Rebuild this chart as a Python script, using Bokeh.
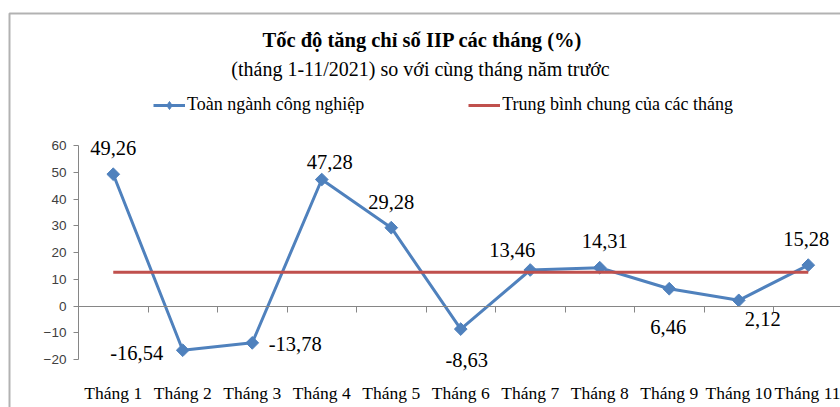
import math
from bokeh.plotting import figure
from bokeh.models import (Range1d, FixedTicker, ColumnDataSource, LabelSet, Label,
                          BoxAnnotation, LinearAxis)
from bokeh.embed import file_html
from bokeh.resources import INLINE
from bokeh.core.properties import value

# ---------------- data ----------------
months = ["Tháng 1", "Tháng 2", "Tháng 3", "Tháng 4", "Tháng 5", "Tháng 6",
          "Tháng 7", "Tháng 8", "Tháng 9", "Tháng 10", "Tháng 11"]
growth = [49.26, -16.54, -13.78, 47.28, 29.28, -8.63, 13.46, 14.31, 6.46, 2.12, 15.28]
average = 12.59
y_ticks = [-20, -10, 0, 10, 20, 30, 40, 50, 60]
y_min, y_max = -20, 60

title_text = "Tốc độ tăng chỉ số IIP các tháng (%)"
subtitle_text = "(tháng 1-11/2021) so với cùng tháng năm trước"
series_name = "Toàn ngành công nghiệp"
avg_name = "Trung bình chung của các tháng"

# label placement (pixels, relative to each point)
label_dx = [0, -46, 43, 8, 0, 6, -18, 5, -1, 24, -2]
label_dy = [26, -3, -1, 18, 26, -31, 20, 27, -38, -19, 26]

BLUE = "#4F81BD"
RED = "#C0504D"
GRAY = "#868686"
SERIF = "Liberation Serif"

W, H = 840, 407
xs = [i + 0.5 for i in range(len(months))]
bounds = list(range(1, len(months) + 1))

# plot area geometry (pixels) used to build the ranges
px_left, px_per_cat = 78, 69.5
py_top, py_bottom = 145, 359
px_per_unit = (py_bottom - py_top) / (y_max - y_min)
x0 = -px_left / px_per_cat
x1 = (W - px_left) / px_per_cat
y_top = y_max + py_top / px_per_unit
y_bot = y_min - (H - py_bottom) / px_per_unit

p = figure(width=W, height=H, output_backend="svg", toolbar_location=None,
           x_range=Range1d(x0, x1), y_range=Range1d(y_bot, y_top),
           min_border_left=0, min_border_right=0, min_border_top=0,
           min_border_bottom=0, x_axis_location=None, y_axis_location=None)
p.title.visible = False
p.outline_line_color = None
p.xgrid.visible = False
p.ygrid.visible = False
p.background_fill_color = "white"
p.border_fill_color = "white"

# y axis at the left of the plot area
yax = LinearAxis(fixed_location=0, bounds=(y_min, y_max))
yax.ticker = FixedTicker(ticks=y_ticks)
yax.minor_tick_line_color = None
yax.major_tick_in = 0
yax.major_tick_out = 5
yax.axis_line_color = GRAY
yax.major_tick_line_color = GRAY
yax.major_label_text_font = "Liberation Sans"
yax.major_label_text_font_size = "13.5px"
yax.major_label_text_color = "#404040"
yax.major_label_standoff = 7
p.add_layout(yax, "left")

# category axis line at zero, with tick marks between categories
zax = LinearAxis(fixed_location=0, bounds=(0, x1))
zax.ticker = FixedTicker(ticks=bounds)
zax.minor_tick_line_color = None
zax.major_tick_in = 0
zax.major_tick_out = 6
zax.axis_line_color = GRAY
zax.major_tick_line_color = GRAY
zax.major_label_text_color = None
p.add_layout(zax, "below")

# category labels below the plot area
xax = LinearAxis(fixed_location=y_min)
xax.ticker = FixedTicker(ticks=xs)
xax.major_label_overrides = {x: m for x, m in zip(xs, months)}
xax.axis_line_color = None
xax.major_tick_line_color = None
xax.minor_tick_line_color = None
xax.major_label_text_font = SERIF
xax.major_label_text_font_size = "17.5px"
xax.major_label_text_color = "black"
xax.major_label_standoff = 17
p.add_layout(xax, "below")

# series
p.line(xs, growth, line_color=BLUE, line_width=3, legend_label=series_name)
p.scatter(xs, growth, marker="square", angle=math.pi / 4, size=9,
          fill_color=BLUE, line_color=BLUE)
# legend-only marker (a single NaN point, never drawn in the plot area)
p.scatter(x=[float("nan")], y=[float("nan")], marker="diamond", size=13,
          fill_color=BLUE, line_color=BLUE, legend_label=series_name)
p.line(xs, [average] * len(xs), line_color=RED, line_width=3, legend_label=avg_name)

# data labels
src = ColumnDataSource(dict(
    x=xs, y=growth,
    text=[f"{v:.2f}".replace(".", ",") for v in growth],
    dx=label_dx, dy=label_dy))
p.add_layout(LabelSet(x="x", y="y", text="text", source=src, x_offset="dx", y_offset="dy",
                      text_align="center", text_baseline="middle",
                      text_font=value(SERIF), text_font_size="20.5px", text_color="black"))

# titles (screen units: from bottom-left of the canvas-sized frame)
p.add_layout(Label(x=422, y=H - 39, x_units="screen", y_units="screen", text=title_text,
                   text_align="center", text_baseline="middle", text_font=SERIF,
                   text_font_style="bold", text_font_size="20.5px", text_color="black"))
p.add_layout(Label(x=420, y=H - 68, x_units="screen", y_units="screen", text=subtitle_text,
                   text_align="center", text_baseline="middle", text_font=SERIF,
                   text_font_size="20px", text_color="black"))

# legend
lg = p.legend[0]
lg.location = (153, H - 115)
lg.orientation = "horizontal"
lg.spacing = 104
lg.padding = 0
lg.margin = 0
lg.glyph_width = 32
lg.glyph_height = 20
lg.label_height = 20
lg.label_standoff = 2
lg.label_text_font = SERIF
lg.label_text_font_size = "18px"
lg.label_text_color = "black"
lg.border_line_color = None
lg.background_fill_alpha = 0

# outer chart border
p.add_layout(BoxAnnotation(left=9, right=W + 20, top=H - 13, bottom=-20,
                           left_units="screen", right_units="screen",
                           top_units="screen", bottom_units="screen",
                           fill_alpha=0, line_color="black", line_width=2))

open("out.html", "w").write(file_html(p, INLINE))
